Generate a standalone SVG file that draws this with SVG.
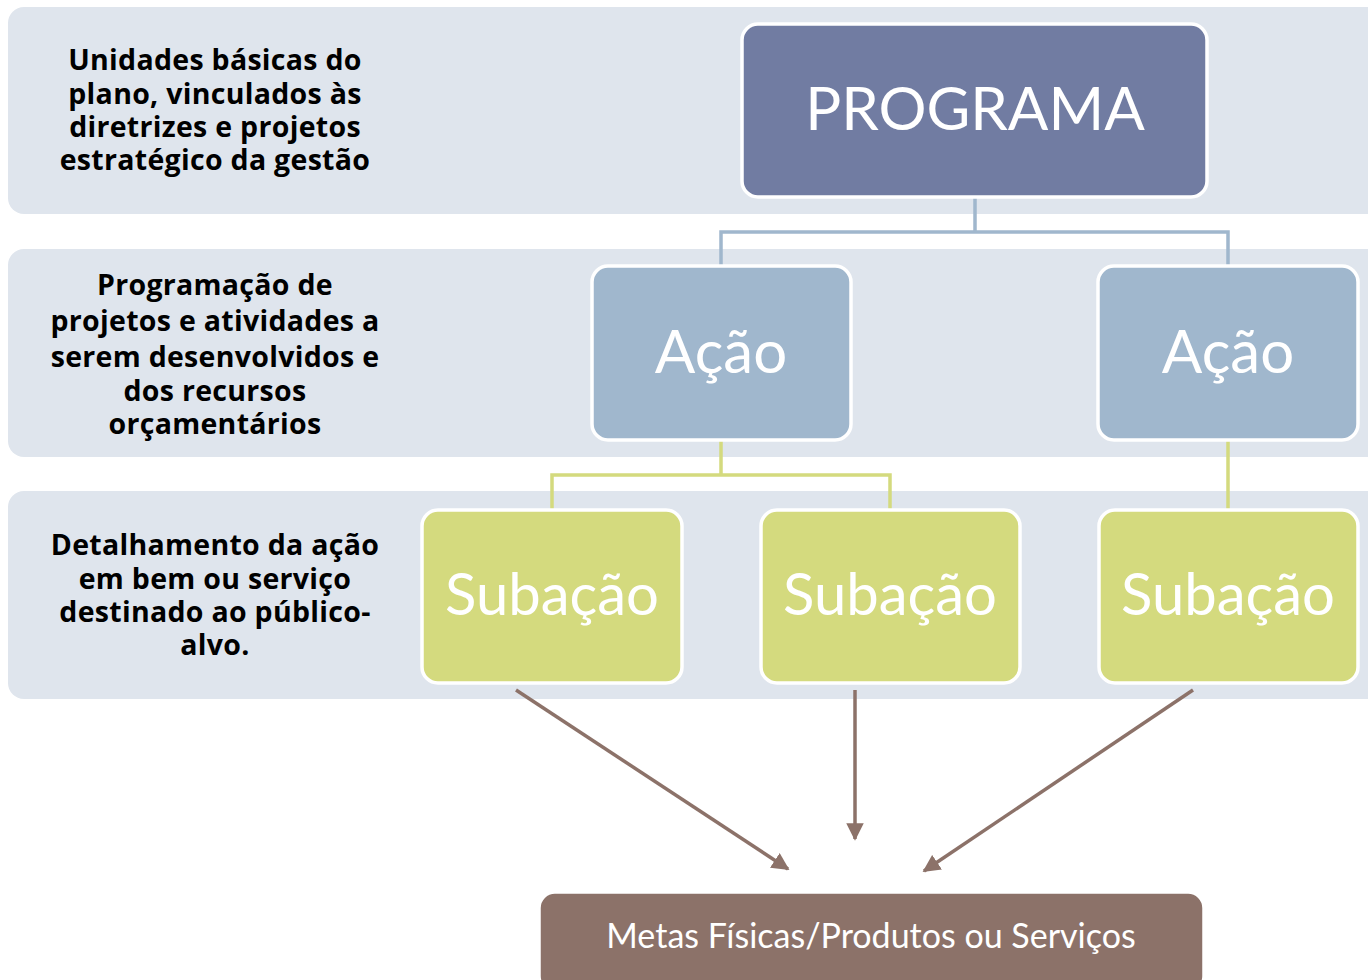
<svg xmlns="http://www.w3.org/2000/svg" width="1368" height="980" viewBox="0 0 1368 980">
<defs>
<style>
.band{fill:#dfe5ed}
.lbl{font-family:"Open Sans",Lato,"Liberation Sans",sans-serif;font-weight:bold;font-size:28.5px;letter-spacing:0.3px;fill:#000;text-anchor:middle}
.box{stroke:#fff;stroke-width:3.5}
.bt{font-family:Lato,"Open Sans","Liberation Sans",sans-serif;fill:#fff;text-anchor:middle}
.c1{fill:none;stroke:#a0b7cd;stroke-width:3.5}
.c2{fill:none;stroke:#d4da7e;stroke-width:3.5}
.ar{fill:none;stroke:#8c7269;stroke-width:3.5;marker-end:url(#ah)}
</style>
<marker id="ah" viewBox="0 0 10 10" refX="9" refY="5" markerWidth="5" markerHeight="5" orient="auto" markerUnits="strokeWidth">
<path d="M0,0 L10,5 L0,10 z" fill="#8c7269"/>
</marker>
</defs>
<rect width="1368" height="980" fill="#fff"/>
<g id="bands">
<rect class="band" x="8" y="7" width="1380" height="207" rx="16"/>
<rect class="band" x="8" y="249" width="1380" height="208" rx="16"/>
<rect class="band" x="8" y="491" width="1380" height="208" rx="16"/>
</g>
<g id="labels">
<text class="lbl" x="215" y="70">Unidades básicas do</text>
<text class="lbl" x="215" y="104">plano, vinculados às</text>
<text class="lbl" x="215" y="137">diretrizes e projetos</text>
<text class="lbl" x="215" y="170">estratégico da gestão</text>
<text class="lbl" x="215" y="295">Programação de</text>
<text class="lbl" x="215" y="331">projetos e atividades a</text>
<text class="lbl" x="215" y="367">serem desenvolvidos e</text>
<text class="lbl" x="215" y="401">dos recursos</text>
<text class="lbl" x="215" y="434">orçamentários</text>
<text class="lbl" x="215" y="555">Detalhamento da ação</text>
<text class="lbl" x="215" y="589">em bem ou serviço</text>
<text class="lbl" x="215" y="622">destinado ao público-</text>
<text class="lbl" x="215" y="655">alvo.</text>
</g>
<g id="connectors">
<path class="c1" d="M975,197 V232 M721,265 V232 H1228 V265"/>
<path class="c2" d="M721,440 V475 M552,510 V475 H890 V510 M1228,440 V510"/>
<path class="ar" d="M516,690 L788,869"/>
<path class="ar" d="M855,690 L855,839"/>
<path class="ar" d="M1193,690 L924,871"/>
</g>
<g id="programa">
<rect class="box" x="742" y="24" width="465" height="173" rx="16" fill="#717ca2"/>
<text class="bt" x="975" y="130" font-size="60">PROGRAMA</text>
</g>
<g id="acao1">
<rect class="box" x="592" y="266" width="259" height="174" rx="16" fill="#a0b7cd"/>
<text class="bt" x="721" y="373" font-size="60">Ação</text>
</g>
<g id="acao2">
<rect class="box" x="1098" y="266" width="260" height="174" rx="16" fill="#a0b7cd"/>
<text class="bt" x="1228" y="373" font-size="60">Ação</text>
</g>
<g id="subacao1">
<rect class="box" x="422" y="510" width="260" height="173" rx="16" fill="#d4da7e"/>
<text class="bt" x="552" y="615" font-size="58">Subação</text>
</g>
<g id="subacao2">
<rect class="box" x="761" y="510" width="259" height="173" rx="16" fill="#d4da7e"/>
<text class="bt" x="890" y="615" font-size="58">Subação</text>
</g>
<g id="subacao3">
<rect class="box" x="1099" y="510" width="259" height="173" rx="16" fill="#d4da7e"/>
<text class="bt" x="1228" y="615" font-size="58">Subação</text>
</g>
<g id="metas">
<rect class="box" x="539" y="892" width="665" height="100" rx="16" fill="#8c7269"/>
<text class="bt" x="871" y="948" font-size="34">Metas Físicas/Produtos ou Serviços</text>
</g>
</svg>
